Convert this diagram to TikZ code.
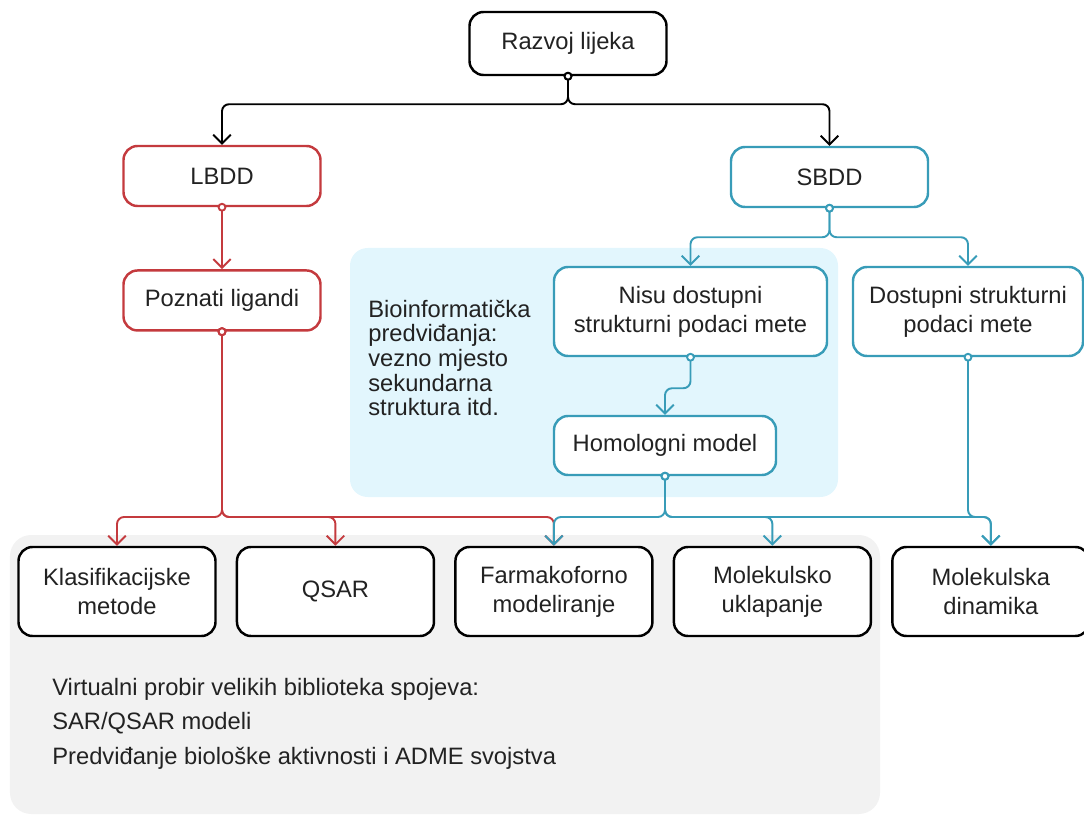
\documentclass[tikz,border=0pt]{standalone}
\usepackage{fontspec}
\setmainfont{Liberation Sans}
\usetikzlibrary{arrows.meta, positioning}
\definecolor{lbddred}{RGB}{196, 58, 62}
\definecolor{sbddteal}{RGB}{56, 156, 184}
\definecolor{textdark}{RGB}{34, 34, 34}
\definecolor{bioblue}{RGB}{226, 246, 253}
\definecolor{screengray}{RGB}{242, 242, 242}
\tikzset{
  box/.style={rectangle, rounded corners=8pt, minimum width=3.94cm,
    minimum height=1.2cm, align=center, fill=white, line width=1.4pt,
    text=textdark, font=\fontsize{13.5}{16.5}\selectfont},
  blackbox/.style={box, draw=black},
  redbox/.style={box, draw=lbddred},
  tealbox/.style={box, draw=sbddteal},
  methodbox/.style={blackbox, minimum height=1.78cm},
  link/.style={line width=1.1pt, rounded corners=4pt,
    {Circle[length=5pt,fill=white]}-{Straight Barb[length=5pt,width=10pt]},
    shorten <=-2.5pt},
  blacklink/.style={link, draw=black},
  redlink/.style={link, draw=lbddred},
  teallink/.style={link, draw=sbddteal},
  note/.style={align=left, inner sep=0pt, text=textdark}
}
\begin{document}
\begin{tikzpicture}
\useasboundingbox (0,0) rectangle (21.68,-16.32);
\fill[bioblue, rounded corners=10pt] (7.0,-4.96) rectangle (16.76,-9.94);
\fill[screengray, rounded corners=12pt] (0.2,-10.7) rectangle (17.6,-16.28);

\node (razvoj)   [blackbox, minimum height=1.26cm] at (11.36,-0.87) {Razvoj lijeka};
\node (lbdd)     [redbox]  at (4.44,-3.52)  {LBDD};
\node (poznati)  [redbox, below=1.24cm of lbdd] {Poznati ligandi};
\node (sbdd)     [tealbox] at (16.59,-3.54) {SBDD};
\node (nisu)     [tealbox, minimum width=5.46cm, minimum height=1.78cm]
                 at (13.81,-6.23) {Nisu dostupni\\strukturni podaci mete};
\node (dostupni) [tealbox, minimum width=4.6cm, minimum height=1.78cm]
                 at (19.36,-6.23) {Dostupni strukturni\\podaci mete};
\node (homolog)  [tealbox, minimum width=4.44cm, minimum height=1.18cm]
                 at (13.3,-8.91) {Homologni model};
\node (bioinf)   [note, anchor=west, font=\fontsize{13.5}{14}\selectfont]
                 at (7.36,-7.16) {Bioinformatička\\predviđanja:\\vezno mjesto\\sekundarna\\struktura itd.};

\node (klas)     [methodbox] at (2.34,-11.83) {Klasifikacijske\\metode};
\node (qsar)     [methodbox, right=0.38cm of klas]  {QSAR};
\node (farm)     [methodbox, right=0.38cm of qsar]  {Farmakoforno\\modeliranje};
\node (uklap)    [methodbox, right=0.38cm of farm]  {Molekulsko\\uklapanje};
\node (dinam)    [methodbox, right=0.38cm of uklap] {Molekulska\\dinamika};
\node (probir)   [note, anchor=north west, font=\fontsize{13.5}{19.8}\selectfont]
                 at (1.04,-13.55) {Virtualni probir velikih biblioteka spojeva:\\SAR/QSAR modeli\\Predviđanje biološke aktivnosti i ADME svojstva};

\coordinate (bus) at (0,-10.34);

\draw[blacklink] (razvoj.south) -- ++(0,-0.56) -| (lbdd.north);
\draw[blacklink] (razvoj.south) -- ++(0,-0.56) -| (sbdd.north);
\draw[redlink]   (lbdd.south) -- (poznati.north);
\draw[teallink]  (sbdd.south) -- ++(0,-0.58) -| (nisu.north);
\draw[teallink]  (sbdd.south) -- ++(0,-0.58) -| (dostupni.north);
\draw[teallink]  (nisu.south) -- ++(0,-0.62) -| (homolog.north);

\draw[redlink]   (poznati.south) -- (poznati.south |- bus) -| (klas.north);
\draw[redlink]   (poznati.south) -- (poznati.south |- bus) -| (qsar.north);
\draw[redlink]   (poznati.south) -- (poznati.south |- bus) -| (farm.north);
\draw[teallink]  (homolog.south) -- (homolog.south |- bus) -| (farm.north);
\draw[teallink]  (homolog.south) -- (homolog.south |- bus) -| (uklap.north);
\draw[teallink]  (homolog.south) -- (homolog.south |- bus) -| (dinam.north);
\draw[teallink]  (dostupni.south) -- (dostupni.south |- bus) -| (dinam.north);
\end{tikzpicture}
\end{document}
